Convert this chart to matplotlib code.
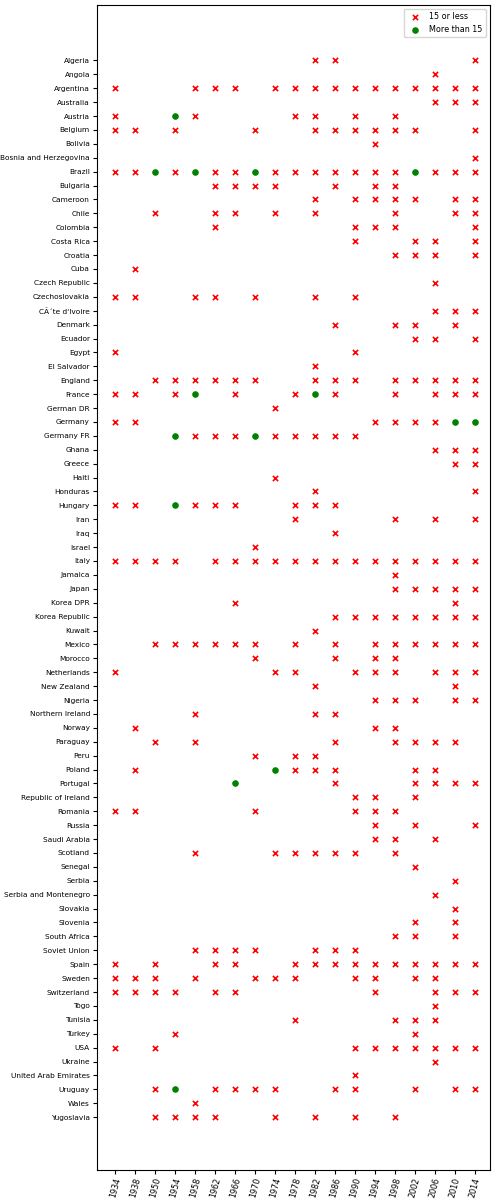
import matplotlib
matplotlib.use("Agg")
import matplotlib.pyplot as plt

years = [1934, 1938, 1950, 1954, 1958, 1962, 1966, 1970, 1974, 1978,
         1982, 1986, 1990, 1994, 1998, 2002, 2006, 2010, 2014]

countries = [
    "Algeria", "Angola", "Argentina", "Australia", "Austria", "Belgium", "Bolivia",
    "Bosnia and Herzegovina", "Brazil", "Bulgaria", "Cameroon", "Chile", "Colombia",
    "Costa Rica", "Croatia", "Cuba", "Czech Republic", "Czechoslovakia",
    "CÃ´te d'Ivoire", "Denmark", "Ecuador", "Egypt", "El Salvador", "England",
    "France", "German DR", "Germany", "Germany FR", "Ghana", "Greece", "Haiti",
    "Honduras", "Hungary", "Iran", "Iraq", "Israel", "Italy", "Jamaica", "Japan",
    "Korea DPR", "Korea Republic", "Kuwait", "Mexico", "Morocco", "Netherlands",
    "New Zealand", "Nigeria", "Northern Ireland", "Norway", "Paraguay", "Peru",
    "Poland", "Portugal", "Republic of Ireland", "Romania", "Russia", "Saudi Arabia",
    "Scotland", "Senegal", "Serbia", "Serbia and Montenegro", "Slovakia", "Slovenia",
    "South Africa", "Soviet Union", "Spain", "Sweden", "Switzerland", "Togo",
    "Tunisia", "Turkey", "USA", "Ukraine", "United Arab Emirates", "Uruguay",
    "Wales", "Yugoslavia",
]

# all appearances per country (same order as countries)
appearances = [
    [1982, 1986, 2014],
    [2006],
    [1934, 1958, 1962, 1966, 1974, 1978, 1982, 1986, 1990, 1994, 1998, 2002, 2006, 2010, 2014],
    [2006, 2010, 2014],
    [1934, 1954, 1958, 1978, 1982, 1990, 1998],
    [1934, 1938, 1954, 1970, 1982, 1986, 1990, 1994, 1998, 2002, 2014],
    [1994],
    [2014],
    list(years),
    [1962, 1966, 1970, 1974, 1986, 1994, 1998],
    [1982, 1990, 1994, 1998, 2002, 2010, 2014],
    [1950, 1962, 1966, 1974, 1982, 1998, 2010, 2014],
    [1962, 1990, 1994, 1998, 2014],
    [1990, 2002, 2006, 2014],
    [1998, 2002, 2006, 2014],
    [1938],
    [2006],
    [1934, 1938, 1958, 1962, 1970, 1982, 1990],
    [2006, 2010, 2014],
    [1986, 1998, 2002, 2010],
    [2002, 2006, 2014],
    [1934, 1990],
    [1982],
    [1950, 1954, 1958, 1962, 1966, 1970, 1982, 1986, 1990, 1998, 2002, 2006, 2010, 2014],
    [1934, 1938, 1954, 1958, 1966, 1978, 1982, 1986, 1998, 2006, 2010, 2014],
    [1974],
    [1934, 1938, 1994, 1998, 2002, 2006, 2010, 2014],
    [1954, 1958, 1962, 1966, 1970, 1974, 1978, 1982, 1986, 1990],
    [2006, 2010, 2014],
    [2010, 2014],
    [1974],
    [1982, 2014],
    [1934, 1938, 1954, 1958, 1962, 1966, 1978, 1982, 1986],
    [1978, 1998, 2006, 2014],
    [1986],
    [1970],
    [1934, 1938, 1950, 1954, 1962, 1966, 1970, 1974, 1978, 1982, 1986, 1990, 1994, 1998, 2002, 2006, 2010, 2014],
    [1998],
    [1998, 2002, 2006, 2010, 2014],
    [1966, 2010],
    [1986, 1990, 1994, 1998, 2002, 2006, 2010, 2014],
    [1982],
    [1950, 1954, 1958, 1962, 1966, 1970, 1978, 1986, 1994, 1998, 2002, 2006, 2010, 2014],
    [1970, 1986, 1994, 1998],
    [1934, 1974, 1978, 1990, 1994, 1998, 2006, 2010, 2014],
    [1982, 2010],
    [1994, 1998, 2002, 2010, 2014],
    [1958, 1982, 1986],
    [1938, 1994, 1998],
    [1950, 1958, 1986, 1998, 2002, 2006, 2010],
    [1970, 1978, 1982],
    [1938, 1974, 1978, 1982, 1986, 2002, 2006],
    [1966, 1986, 2002, 2006, 2010, 2014],
    [1990, 1994, 2002],
    [1934, 1938, 1970, 1990, 1994, 1998],
    [1994, 2002, 2014],
    [1994, 1998, 2006],
    [1958, 1974, 1978, 1982, 1986, 1990, 1998],
    [2002],
    [2010],
    [2006],
    [2010],
    [2002, 2010],
    [1998, 2002, 2010],
    [1958, 1962, 1966, 1970, 1982, 1986, 1990],
    [1934, 1950, 1962, 1966, 1978, 1982, 1986, 1990, 1994, 1998, 2002, 2006, 2010, 2014],
    [1934, 1938, 1950, 1958, 1970, 1974, 1978, 1990, 1994, 2002, 2006],
    [1934, 1938, 1950, 1954, 1962, 1966, 1994, 2006, 2010, 2014],
    [2006],
    [1978, 1998, 2002, 2006],
    [1954, 2002],
    [1934, 1950, 1990, 1994, 1998, 2002, 2006, 2010, 2014],
    [2006],
    [1990],
    [1950, 1954, 1962, 1966, 1970, 1974, 1986, 1990, 2002, 2010, 2014],
    [1958],
    [1950, 1954, 1958, 1962, 1974, 1982, 1990, 1998],
]

# appearances with more than 15 goals
high_country = ["Austria", "Brazil", "Brazil", "Brazil", "Brazil", "France", "France",
                "Germany", "Germany", "Germany FR", "Germany FR", "Hungary", "Poland",
                "Portugal", "Uruguay"]
high_year = [1954, 1950, 1958, 1970, 2002, 1958, 1982,
             2010, 2014, 1954, 1970, 1954, 1974,
             1966, 1954]

high = set(zip(high_country, high_year))
low_x, low_y, hi_x, hi_y = [], [], [], []
for ci, (c, ys) in enumerate(zip(countries, appearances)):
    for y in ys:
        xi = years.index(y)
        if (c, y) in high:
            hi_x.append(xi)
            hi_y.append(ci)
        else:
            low_x.append(xi)
            low_y.append(ci)

fig = plt.figure(figsize=(5.02, 12), dpi=100)
ax = fig.add_axes([0.193, 0.025, 0.783, 0.971])
ax.scatter(low_x, low_y, marker="x", color="red", s=14, linewidths=1.2, label="15 or less")
ax.scatter(hi_x, hi_y, marker="o", color="green", s=14, label="More than 15")

ax.set_xticks(range(len(years)))
ax.set_xticklabels([str(y) for y in years], rotation=75, fontsize=5.8)
ax.set_yticks(range(len(countries)))
ax.set_yticklabels(countries, fontsize=5.3)
ax.tick_params(length=3, pad=2)
ax.set_xlim(-0.9, len(years) - 1 + 0.75)
ax.set_ylim(len(countries) - 1 + 3.8, -4)
ax.legend(loc="upper right", fontsize=5.8)

fig.savefig("out.png", dpi=100)
